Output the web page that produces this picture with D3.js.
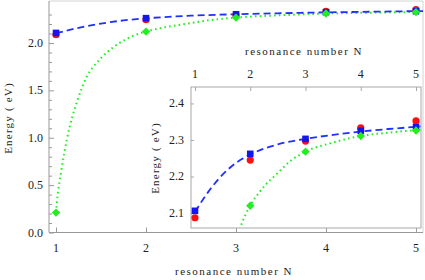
<!DOCTYPE html>
<html>
<head>
<meta charset="utf-8">
<script src="https://cdn.jsdelivr.net/npm/d3@7"></script>
<style>
  body { margin: 0; background: #fff; }
  svg { display: block; }
  svg text { font-family: "Liberation Serif", "Times New Roman", "DejaVu Serif", serif; }
</style>
</head>
<body>
<svg id="chart" width="425" height="280"></svg>
<script>
// resonance numbers and measured energies (eV)
const resN = [1, 2, 3, 4, 5];
const blueE = [2.106, 2.262, 2.303, 2.325, 2.335];
const redE = [2.087, 2.245, 2.297, 2.333, 2.352];
const greenE = [0.21, 2.12, 2.268, 2.311, 2.326];

// fitted curves
const blueFitN = [1, 1.25, 1.5, 1.75, 2, 2.5, 3, 3.5, 4, 4.5, 5, 5.08];
const blueFitE = [2.103, 2.16, 2.205, 2.238, 2.26, 2.288, 2.303, 2.314, 2.323, 2.33, 2.336, 2.337];
const greenFitN = [1, 1.01, 1.06, 1.12, 1.24, 1.34, 1.49, 1.63, 1.82, 2, 2.18, 2.5, 2.73, 3, 3.5, 4, 4.5, 5, 5.08];
const greenFitE = [0.21, 0.32, 0.66, 0.98, 1.40, 1.64, 1.83, 1.95, 2.06, 2.12, 2.16, 2.21, 2.243, 2.268, 2.293, 2.311, 2.32, 2.327, 2.328];

const xTicks = [1, 2, 3, 4, 5];
const mainYTicks = [0, 0.5, 1.0, 1.5, 2.0];
const insetYTicks = [2.1, 2.2, 2.3, 2.4];

const serif = "'Liberation Serif', 'Times New Roman', 'DejaVu Serif', serif";
const svg = d3.select("#chart");

function label(g, txt, size) {
  return g.append("text").attr("font-family", serif).attr("font-size", size)
    .attr("fill", "#222").text(txt);
}

function drawSeries(g, x, y, clipId) {
  const blueFit = blueFitN.map((n, i) => [n, blueFitE[i]]);
  const greenFit = greenFitN.map((n, i) => [n, greenFitE[i]]);
  const line = d3.line().x(d => x(d[0])).y(d => y(d[1])).curve(d3.curveMonotoneX);
  const layer = g.append("g").attr("clip-path", `url(#${clipId})`);

  layer.append("path").attr("d", line(greenFit))
    .attr("fill", "none").attr("stroke", "#22ee22").attr("stroke-width", 2)
    .attr("stroke-dasharray", "1.6,3.2").attr("stroke-linecap", "butt");
  layer.append("path").attr("d", line(blueFit))
    .attr("fill", "none").attr("stroke", "#2030ff").attr("stroke-width", 1.8)
    .attr("stroke-dasharray", "7,4");

  // red circles, blue squares, green diamonds
  layer.selectAll(".red").data(resN).join("circle")
    .attr("cx", d => x(d)).attr("cy", (d, i) => y(redE[i])).attr("r", 3.6)
    .attr("fill", "#ff1010");
  layer.selectAll(".blue").data(resN).join("rect")
    .attr("x", d => x(d) - 3.3).attr("y", (d, i) => y(blueE[i]) - 3.3)
    .attr("width", 6.6).attr("height", 6.6).attr("fill", "#1515ee");
  layer.selectAll(".green").data(resN).join("path")
    .attr("d", (d, i) => {
      const cx = x(d), cy = y(greenE[i]), s = 4.2;
      return `M${cx},${cy - s}L${cx + s},${cy}L${cx},${cy + s}L${cx - s},${cy}Z`;
    })
    .attr("fill", "#22ee22");
}

// ---- main plot ----
const mx = d3.scaleLinear().domain([0.922, 5.078]).range([49, 423]);
const my = d3.scaleLinear().domain([0, 2.443]).range([232.5, 1]);

svg.append("clipPath").attr("id", "clipMain").append("rect")
  .attr("x", 49).attr("y", 1).attr("width", 374).attr("height", 231.5);

const main = svg.append("g");
// frame: top/right light
main.append("path").attr("d", `M49,1H423V232.5`).attr("fill", "none").attr("stroke", "#d4d4d4");

main.append("g").attr("transform", "translate(49,0)")
  .call(d3.axisLeft(my).tickValues(d3.range(0, 24).map(d => d / 10)).tickSize(0).tickFormat(""))
  .call(g => g.selectAll(".tick line").attr("x2", d => (Math.round(d * 10) % 5 === 0 ? 5 : 3)))
  .call(g => g.select(".domain").remove());
mainYTicks.forEach(d => label(main, d.toFixed(1), 12)
  .attr("x", 43).attr("y", my(d) + 4).attr("text-anchor", "end"));

main.append("g").attr("transform", "translate(0,232.5)")
  .call(d3.axisBottom(mx).tickValues(xTicks).tickSizeInner(-5).tickSizeOuter(0).tickFormat(""))
  .call(g => g.select(".domain").remove());
xTicks.forEach(d => label(main, d, 12)
  .attr("x", mx(d)).attr("y", 252).attr("text-anchor", "middle"));

main.append("path").attr("d", `M49,1V232.5H423`).attr("fill", "none").attr("stroke", "#999");
main.selectAll(".tick line").attr("stroke", "#999");

label(main, "Energy ( eV)", 11).attr("transform", "translate(12,118) rotate(-90)")
  .attr("text-anchor", "middle").attr("letter-spacing", 1.2);
label(main, "resonance number N", 11).attr("x", 234).attr("y", 275)
  .attr("text-anchor", "middle").attr("letter-spacing", 1.5);

drawSeries(main, mx, my, "clipMain");

// ---- inset ----
const ix = d3.scaleLinear().domain([0.928, 5.09]).range([191, 421]);
const iy = d3.scaleLinear().domain([2.059, 2.445]).range([228, 87]);

svg.append("clipPath").attr("id", "clipInset").append("rect")
  .attr("x", 191).attr("y", 87).attr("width", 230).attr("height", 141);

const inset = svg.append("g");
inset.append("rect").attr("x", 191).attr("y", 87).attr("width", 230).attr("height", 141)
  .attr("fill", "#fff").attr("stroke", "#a8a8a8");

inset.append("g").attr("transform", "translate(191,0)")
  .call(d3.axisLeft(iy).tickValues(insetYTicks).tickSizeInner(-3).tickSizeOuter(0).tickFormat(""))
  .call(g => g.select(".domain").remove());
inset.append("g").attr("transform", "translate(0,87)")
  .call(d3.axisTop(ix).tickValues(xTicks).tickSizeInner(-4).tickSizeOuter(0).tickFormat(""))
  .call(g => g.select(".domain").remove());
inset.selectAll(".tick line").attr("stroke", "#a8a8a8");

insetYTicks.forEach(d => label(inset, d.toFixed(1), 12)
  .attr("x", 184).attr("y", iy(d) + 4).attr("text-anchor", "end"));
xTicks.forEach(d => label(inset, d, 12)
  .attr("x", ix(d)).attr("y", 78).attr("text-anchor", "middle"));

label(inset, "Energy ( eV)", 11).attr("transform", "translate(159,158) rotate(-90)")
  .attr("text-anchor", "middle").attr("letter-spacing", 1.2);
label(inset, "resonance number N", 11).attr("x", 304).attr("y", 55)
  .attr("text-anchor", "middle").attr("letter-spacing", 1.5);

drawSeries(inset, ix, iy, "clipInset");
</script>
</body>
</html>
